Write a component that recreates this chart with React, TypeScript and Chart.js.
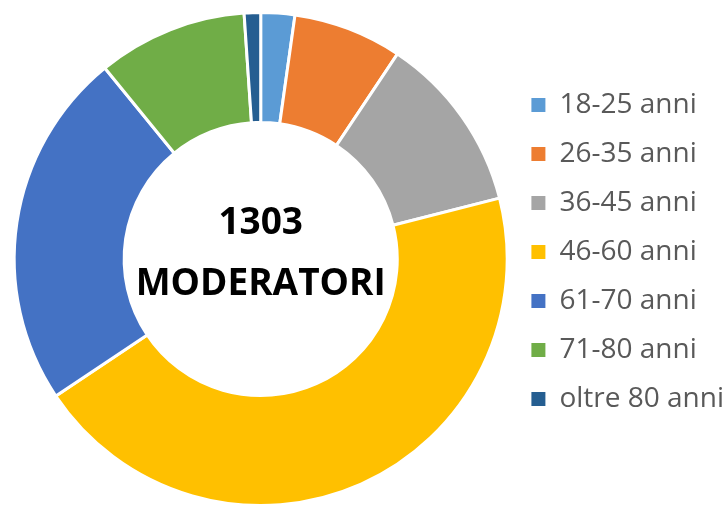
import React, { useEffect, useRef } from "react";
import { Chart, registerables } from "chart.js";

Chart.register(...registerables);

const categories = [
  "18-25 anni",
  "26-35 anni",
  "36-45 anni",
  "46-60 anni",
  "61-70 anni",
  "71-80 anni",
  "oltre 80 anni",
];
const values = [29, 93, 152, 581, 306, 128, 14];
const colors = ["#5B9BD5", "#ED7D31", "#A5A5A5", "#FFC000", "#4472C4", "#70AD47", "#255E91"];
const centerLines = ["1303", "MODERATORI"];

const FONT = "'Open Sans', 'Noto Sans', sans-serif";

export default function App() {
  const ref = useRef<HTMLCanvasElement | null>(null);

  useEffect(() => {
    if (!ref.current) return;
    const baseGen = (Chart as any).overrides.doughnut.plugins.legend.labels.generateLabels;

    const legendShift = {
      id: "legendShift",
      afterLayout(chart: any) {
        const l = chart.legend;
        if (l) {
          l.top -= 7;
          l.bottom -= 7;
        }
      },
    };

    const centerText = {
      id: "centerText",
      afterDraw(chart: any) {
        const arc = chart.getDatasetMeta(0).data[0];
        if (!arc) return;
        const ctx = chart.ctx;
        ctx.save();
        ctx.fillStyle = "#000000";
        ctx.textAlign = "center";
        ctx.textBaseline = "alphabetic";
        ctx.font = `bold 37px ${FONT}`;
        ctx.fillText(centerLines[0], arc.x, arc.y - 25);
        ctx.fillText(centerLines[1], arc.x, arc.y + 36);
        ctx.restore();
      },
    };

    const chart = new Chart(ref.current, {
      type: "doughnut",
      data: {
        labels: categories,
        datasets: [
          {
            data: values,
            backgroundColor: colors,
            borderColor: "#ffffff",
            borderWidth: 3,
            hoverOffset: 0,
          },
        ],
      },
      options: {
        responsive: false,
        animation: false,
        cutout: "55.4%",
        layout: { padding: { top: 11, bottom: 0, left: 11, right: -12 } },
        plugins: {
          tooltip: { enabled: false },
          legend: {
            position: "right",
            labels: {
              boxWidth: 14,
              boxHeight: 14,
              padding: 21,
              color: "#595959",
              font: { family: FONT, size: 28 },
              generateLabels: (c: any) =>
                baseGen(c).map((it: any) => ({ ...it, lineWidth: 0 })),
            },
          },
        },
      },
      plugins: [legendShift, centerText],
    });
    return () => chart.destroy();
  }, []);

  return (
    <div style={{ position: "absolute", left: 0, top: 0, width: 722, height: 507, background: "#fff" }}>
      <canvas ref={ref} width={722} height={507} style={{ display: "block" }} />
    </div>
  );
}
